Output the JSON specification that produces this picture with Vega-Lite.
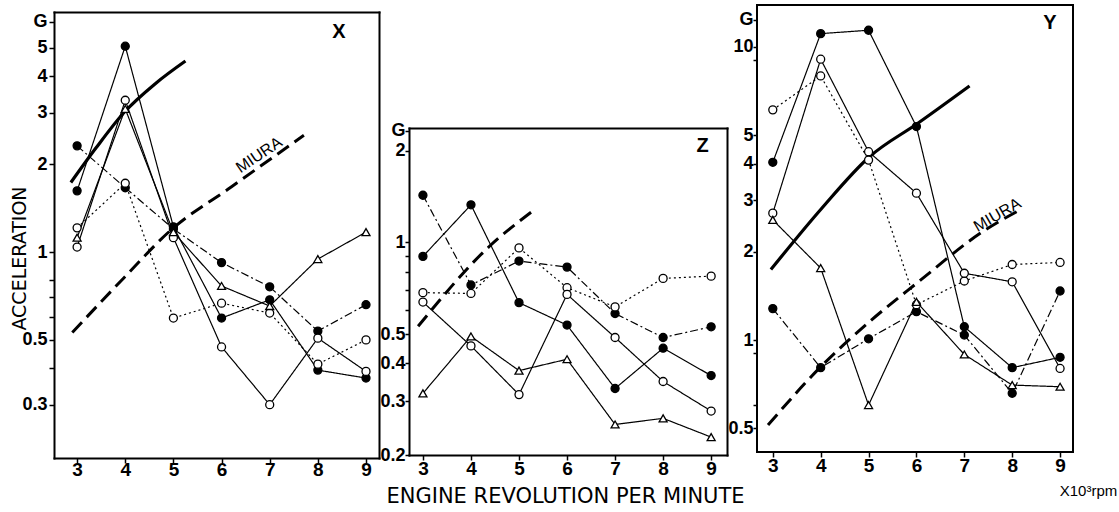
{
  "$schema": "https://vega.github.io/schema/vega-lite/v6.json",
  "background": "white",
  "autosize": {"type": "pad"},
  "padding": {"left": 10, "top": 4, "right": 0, "bottom": 0},
  "config": {
    "view": {"stroke": "black", "strokeWidth": 2},
    "axis": {"domain": false, "grid": false, "domainColor": "black", "domainWidth": 2, "domainCap": "square", "tickColor": "black", "tickWidth": 1.5, "tickSize": 5, "labelColor": "black", "labelFont": "Liberation Sans", "labelFontWeight": "bold", "labelFontSize": 18, "labelOverlap": false, "titleColor": "black", "titleFont": "DejaVu Sans", "titleFontWeight": "normal"},
    "text": {"font": "Liberation Sans", "color": "black"}
  },
  "datasets": {
    "xs": [
      {"rpm":3,"g":1.62,"s":"s1"},{"rpm":4,"g":5.07,"s":"s1"},{"rpm":5,"g":1.22,"s":"s1"},{"rpm":6,"g":0.594,"s":"s1"},{"rpm":7,"g":0.686,"s":"s1"},{"rpm":8,"g":0.394,"s":"s1"},{"rpm":9,"g":0.37,"s":"s1"},
      {"rpm":3,"g":2.31,"s":"s2"},{"rpm":4,"g":1.66,"s":"s2"},{"rpm":5,"g":1.2,"s":"s2"},{"rpm":6,"g":0.92,"s":"s2"},{"rpm":7,"g":0.76,"s":"s2"},{"rpm":8,"g":0.536,"s":"s2"},{"rpm":9,"g":0.66,"s":"s2"},
      {"rpm":3,"g":1.21,"s":"s3"},{"rpm":4,"g":1.72,"s":"s3"},{"rpm":5,"g":0.594,"s":"s3"},{"rpm":6,"g":0.668,"s":"s3"},{"rpm":7,"g":0.618,"s":"s3"},{"rpm":8,"g":0.413,"s":"s3"},{"rpm":9,"g":0.5,"s":"s3"},
      {"rpm":3,"g":1.04,"s":"s4"},{"rpm":4,"g":3.31,"s":"s4"},{"rpm":5,"g":1.12,"s":"s4"},{"rpm":6,"g":0.473,"s":"s4"},{"rpm":7,"g":0.3,"s":"s4"},{"rpm":8,"g":0.507,"s":"s4"},{"rpm":9,"g":0.39,"s":"s4"},
      {"rpm":3,"g":1.12,"s":"s5"},{"rpm":4,"g":3.09,"s":"s5"},{"rpm":5,"g":1.17,"s":"s5"},{"rpm":6,"g":0.765,"s":"s5"},{"rpm":7,"g":0.653,"s":"s5"},{"rpm":8,"g":0.946,"s":"s5"},{"rpm":9,"g":1.17,"s":"s5"}
    ],
    "xc": [
      {"rpm":2.87,"g":1.73,"c":"ref"},{"rpm":3.39,"g":2.27,"c":"ref"},{"rpm":3.97,"g":3.0,"c":"ref"},{"rpm":4.63,"g":3.78,"c":"ref"},{"rpm":5.25,"g":4.51,"c":"ref"},
      {"rpm":2.9,"g":0.53,"c":"MIURA"},{"rpm":3.97,"g":0.815,"c":"MIURA"},{"rpm":4.95,"g":1.19,"c":"MIURA"},{"rpm":6.2,"g":1.67,"c":"MIURA"},{"rpm":7.71,"g":2.51,"c":"MIURA"}
    ],
    "xt": [{"rpm":8.44,"g":5.67,"t":"X"},{"rpm":6.78,"g":2.15,"t":"MIURA"}],
    "zs": [
      {"rpm":3,"g":0.9,"s":"s1"},{"rpm":4,"g":1.33,"s":"s1"},{"rpm":5,"g":0.634,"s":"s1"},{"rpm":6,"g":0.535,"s":"s1"},{"rpm":7,"g":0.331,"s":"s1"},{"rpm":8,"g":0.449,"s":"s1"},{"rpm":9,"g":0.365,"s":"s1"},
      {"rpm":3,"g":1.43,"s":"s2"},{"rpm":4,"g":0.725,"s":"s2"},{"rpm":5,"g":0.869,"s":"s2"},{"rpm":6,"g":0.83,"s":"s2"},{"rpm":7,"g":0.584,"s":"s2"},{"rpm":8,"g":0.487,"s":"s2"},{"rpm":9,"g":0.528,"s":"s2"},
      {"rpm":3,"g":0.684,"s":"s3"},{"rpm":4,"g":0.68,"s":"s3"},{"rpm":5,"g":0.96,"s":"s3"},{"rpm":6,"g":0.71,"s":"s3"},{"rpm":7,"g":0.614,"s":"s3"},{"rpm":8,"g":0.762,"s":"s3"},{"rpm":9,"g":0.775,"s":"s3"},
      {"rpm":3,"g":0.637,"s":"s4"},{"rpm":4,"g":0.457,"s":"s4"},{"rpm":5,"g":0.316,"s":"s4"},{"rpm":6,"g":0.675,"s":"s4"},{"rpm":7,"g":0.487,"s":"s4"},{"rpm":8,"g":0.349,"s":"s4"},{"rpm":9,"g":0.279,"s":"s4"},
      {"rpm":3,"g":0.319,"s":"s5"},{"rpm":4,"g":0.491,"s":"s5"},{"rpm":5,"g":0.379,"s":"s5"},{"rpm":6,"g":0.413,"s":"s5"},{"rpm":7,"g":0.252,"s":"s5"},{"rpm":8,"g":0.264,"s":"s5"},{"rpm":9,"g":0.229,"s":"s5"}
    ],
    "zc": [
      {"rpm":2.9,"g":0.53,"c":"MIURA"},{"rpm":4.38,"g":0.97,"c":"MIURA"},{"rpm":5.26,"g":1.26,"c":"MIURA"}
    ],
    "zt": [{"rpm":8.82,"g":2.07,"t":"Z"}],
    "ys": [
      {"rpm":3,"g":4.04,"s":"s1"},{"rpm":4,"g":11.1,"s":"s1"},{"rpm":5,"g":11.4,"s":"s1"},{"rpm":6,"g":5.35,"s":"s1"},{"rpm":7,"g":1.11,"s":"s1"},{"rpm":8,"g":0.805,"s":"s1"},{"rpm":9,"g":0.873,"s":"s1"},
      {"rpm":3,"g":1.28,"s":"s2"},{"rpm":4,"g":0.805,"s":"s2"},{"rpm":5,"g":1.01,"s":"s2"},{"rpm":6,"g":1.25,"s":"s2"},{"rpm":7,"g":1.04,"s":"s2"},{"rpm":8,"g":0.658,"s":"s2"},{"rpm":9,"g":1.47,"s":"s2"},
      {"rpm":3,"g":6.1,"s":"s3"},{"rpm":4,"g":7.96,"s":"s3"},{"rpm":5,"g":4.11,"s":"s3"},{"rpm":6,"g":1.32,"s":"s3"},{"rpm":7,"g":1.59,"s":"s3"},{"rpm":8,"g":1.81,"s":"s3"},{"rpm":9,"g":1.84,"s":"s3"},
      {"rpm":3,"g":2.71,"s":"s4"},{"rpm":4,"g":9.08,"s":"s4"},{"rpm":5,"g":4.39,"s":"s4"},{"rpm":6,"g":3.17,"s":"s4"},{"rpm":7,"g":1.69,"s":"s4"},{"rpm":8,"g":1.58,"s":"s4"},{"rpm":9,"g":0.8,"s":"s4"},
      {"rpm":3,"g":2.57,"s":"s5"},{"rpm":4,"g":1.76,"s":"s5"},{"rpm":5,"g":0.6,"s":"s5"},{"rpm":6,"g":1.35,"s":"s5"},{"rpm":7,"g":0.893,"s":"s5"},{"rpm":8,"g":0.702,"s":"s5"},{"rpm":9,"g":0.693,"s":"s5"}
    ],
    "yc": [
      {"rpm":2.96,"g":1.74,"c":"ref"},{"rpm":4.01,"g":2.8,"c":"ref"},{"rpm":5.02,"g":4.22,"c":"ref"},{"rpm":6.03,"g":5.49,"c":"ref"},{"rpm":7.11,"g":7.36,"c":"ref"},
      {"rpm":2.9,"g":0.513,"c":"MIURA"},{"rpm":4.0,"g":0.81,"c":"MIURA"},{"rpm":5.02,"g":1.155,"c":"MIURA"},{"rpm":6.0,"g":1.56,"c":"MIURA"},{"rpm":7.43,"g":2.37,"c":"MIURA"},{"rpm":8.2,"g":2.8,"c":"MIURA"}
    ],
    "yt": [{"rpm":8.79,"g":12.05,"t":"Y"},{"rpm":7.69,"g":2.67,"t":"MIURA"}]
  },
  "resolve": {"scale": {"x": "independent", "y": "independent"}},
  "bounds": "flush",
  "spacing": 30,
  "hconcat": [
    {
      "width": 325, "height": 453,
      "view": {"stroke": null},
      "resolve": {"axis": {"x": "independent", "y": "independent"}},
      "layer": [
        {"data": {"name": "xs"}, "mark": {"type": "line", "color": "black", "strokeWidth": 1.2},
         "encoding": {
           "x": {"field": "rpm", "type": "quantitative", "scale": {"domain": [2.52, 9.27], "nice": false, "zero": false},
                 "axis": {"values": [3,4,5,6,7,8,9], "title": null, "labelFontSize": 19, "labelBaseline": "middle", "labelPadding": 6, "domain": true}},
           "y": {"field": "g", "type": "quantitative", "scale": {"type": "log", "domain": [0.197, 6.64], "nice": false, "range": [453, 7]},
                 "axis": {"values": [6.15,5,4,3,2,1,0.8,0.7,0.6,0.5,0.4,0.3], "domain": true,
                          "labelExpr": "datum.value > 6 ? 'G' : indexof([5,4,3,2,1,0.5,0.3], datum.value) >= 0 ? datum.value + '' : ''",
                          "title": "ACCELERATION", "titleFontSize": 19, "titleX": -35, "titleY": 253, "titleAngle": -90, "titleAlign": "center", "titleBaseline": "middle"}},
           "detail": {"field": "s"},
           "strokeDash": {"field": "s", "type": "nominal", "legend": null, "scale": {"domain": ["s1","s2","s3","s4","s5"], "range": [[1,0],[8,3,2,3],[2,3],[1,0],[1,0]]}}}},
        {"data": {"name": "xc"}, "transform": [{"filter": "datum.c == 'ref'"}], "mark": {"type": "line", "color": "black", "strokeWidth": 3.2, "interpolate": "monotone"},
         "encoding": {"x": {"field": "rpm", "type": "quantitative", "axis": null}, "y": {"field": "g", "type": "quantitative", "axis": null}}},
        {"data": {"name": "xc"}, "transform": [{"filter": "datum.c == 'MIURA'"}], "mark": {"type": "line", "color": "black", "strokeWidth": 3, "strokeDash": [14,7], "interpolate": "monotone"},
         "encoding": {"x": {"field": "rpm", "type": "quantitative", "axis": null}, "y": {"field": "g", "type": "quantitative", "axis": null}}},
        {"data": {"name": "xs"}, "mark": {"type": "point", "filled": true, "stroke": "black", "strokeWidth": 1.3, "opacity": 1},
         "encoding": {
           "x": {"field": "rpm", "type": "quantitative", "axis": null}, "y": {"field": "g", "type": "quantitative", "axis": null},
           "shape": {"field": "s", "type": "nominal", "legend": null, "scale": {"domain": ["s1","s2","s3","s4","s5"], "range": ["circle","circle","circle","circle","triangle-up"]}},
           "fill": {"field": "s", "type": "nominal", "legend": null, "scale": {"domain": ["s1","s2","s3","s4","s5"], "range": ["black","black","white","white","white"]}},
           "size": {"field": "s", "type": "nominal", "legend": null, "scale": {"domain": ["s1","s2","s3","s4","s5"], "range": [64,64,64,64,120]}}}},
        {"data": {"name": "xt"}, "transform": [{"filter": "datum.t == 'MIURA'"}], "mark": {"type": "text", "fontSize": 16, "angle": -34},
         "encoding": {"x": {"field": "rpm", "type": "quantitative", "axis": null}, "y": {"field": "g", "type": "quantitative", "axis": null}, "text": {"field": "t"}}},
        {"data": {"name": "xt"}, "transform": [{"filter": "datum.t == 'X'"}], "mark": {"type": "text", "fontSize": 20, "fontWeight": "bold"},
         "encoding": {
           "x": {"field": "rpm", "type": "quantitative", "axis": {"orient": "top", "offset": -7, "domain": true, "ticks": false, "labels": false, "title": null}},
           "y": {"field": "g", "type": "quantitative", "axis": {"orient": "right", "domain": true, "ticks": false, "labels": false, "title": null}},
           "text": {"field": "t"}}}
      ]
    },
    {
      "width": 318, "height": 450,
      "view": {"stroke": null},
      "resolve": {"axis": {"x": "independent", "y": "independent"}},
      "layer": [
        {"data": {"name": "zs"}, "mark": {"type": "line", "color": "black", "strokeWidth": 1.2},
         "encoding": {
           "x": {"field": "rpm", "type": "quantitative", "scale": {"domain": [2.71, 9.33], "nice": false, "zero": false},
                 "axis": {"values": [3,4,5,6,7,8,9], "labelFontSize": 19, "labelBaseline": "middle", "labelPadding": 8, "domain": true,
                          "title": "ENGINE REVOLUTION PER MINUTE", "titleFontSize": 21, "titleX": 156, "titleY": 41, "titleAlign": "center", "titleBaseline": "middle"}},
           "y": {"field": "g", "type": "quantitative", "scale": {"type": "log", "domain": [0.2, 2.38], "nice": false, "range": [450, 123]},
                 "axis": {"values": [2.33,2,1,0.9,0.8,0.7,0.6,0.5,0.4,0.3,0.2], "domain": true, "tickSize": 4, "labelPadding": 0,
                          "labelExpr": "datum.value > 2.1 ? 'G' : indexof([2,1,0.5,0.4,0.3,0.2], datum.value) >= 0 ? datum.value + '' : ''",
                          "title": null}},
           "detail": {"field": "s"},
           "strokeDash": {"field": "s", "type": "nominal", "legend": null, "scale": {"domain": ["s1","s2","s3","s4","s5"], "range": [[1,0],[8,3,2,3],[2,3],[1,0],[1,0]]}}}},
        {"data": {"name": "zc"}, "mark": {"type": "line", "color": "black", "strokeWidth": 3, "strokeDash": [14,7], "interpolate": "monotone"},
         "encoding": {"x": {"field": "rpm", "type": "quantitative", "axis": null}, "y": {"field": "g", "type": "quantitative", "axis": null}}},
        {"data": {"name": "zs"}, "mark": {"type": "point", "filled": true, "stroke": "black", "strokeWidth": 1.3, "opacity": 1},
         "encoding": {
           "x": {"field": "rpm", "type": "quantitative", "axis": null}, "y": {"field": "g", "type": "quantitative", "axis": null},
           "shape": {"field": "s", "type": "nominal", "legend": null, "scale": {"domain": ["s1","s2","s3","s4","s5"], "range": ["circle","circle","circle","circle","triangle-up"]}},
           "fill": {"field": "s", "type": "nominal", "legend": null, "scale": {"domain": ["s1","s2","s3","s4","s5"], "range": ["black","black","white","white","white"]}},
           "size": {"field": "s", "type": "nominal", "legend": null, "scale": {"domain": ["s1","s2","s3","s4","s5"], "range": [64,64,64,64,120]}}}},
        {"data": {"name": "zt"}, "mark": {"type": "text", "fontSize": 20, "fontWeight": "bold"},
         "encoding": {
           "x": {"field": "rpm", "type": "quantitative", "axis": {"orient": "top", "offset": -123, "domain": true, "ticks": false, "labels": false, "title": null}},
           "y": {"field": "g", "type": "quantitative", "axis": {"orient": "right", "domain": true, "ticks": false, "labels": false, "title": null}},
           "text": {"field": "t"}}}
      ]
    },
    {
      "width": 316, "height": 447,
      "encoding": {
        "x": {"field": "rpm", "type": "quantitative", "scale": {"domain": [2.67, 9.27], "nice": false, "zero": false},
              "axis": {"values": [3,4,5,6,7,8,9], "labelFontSize": 19, "labelBaseline": "middle", "labelPadding": 8,
                       "title": "X10³rpm", "titleFont": "Liberation Sans", "titleFontSize": 15, "titleX": 331, "titleY": 38, "titleAlign": "center", "titleBaseline": "middle"}},
        "y": {"field": "g", "type": "quantitative", "scale": {"type": "log", "domain": [0.415, 13.9], "nice": false},
              "axis": {"values": [12.4,10,9,5,4,3,2,1,0.9,0.6,0.5], "tickSize": 4, "labelPadding": 0,
                       "labelExpr": "datum.value > 11 ? 'G' : indexof([10,5,4,3,2,1,0.5], datum.value) >= 0 ? datum.value + '' : ''",
                       "title": null}}
      },
      "layer": [
        {"data": {"name": "ys"}, "mark": {"type": "line", "color": "black", "strokeWidth": 1.2},
         "encoding": {"detail": {"field": "s"}, "strokeDash": {"field": "s", "type": "nominal", "legend": null, "scale": {"domain": ["s1","s2","s3","s4","s5"], "range": [[1,0],[8,3,2,3],[2,3],[1,0],[1,0]]}}}},
        {"data": {"name": "yc"}, "transform": [{"filter": "datum.c == 'ref'"}], "mark": {"type": "line", "color": "black", "strokeWidth": 3.2, "interpolate": "monotone"}},
        {"data": {"name": "yc"}, "transform": [{"filter": "datum.c == 'MIURA'"}], "mark": {"type": "line", "color": "black", "strokeWidth": 3, "strokeDash": [14,7], "interpolate": "monotone"}},
        {"data": {"name": "ys"}, "mark": {"type": "point", "filled": true, "stroke": "black", "strokeWidth": 1.3, "opacity": 1},
         "encoding": {
           "shape": {"field": "s", "type": "nominal", "legend": null, "scale": {"domain": ["s1","s2","s3","s4","s5"], "range": ["circle","circle","circle","circle","triangle-up"]}},
           "fill": {"field": "s", "type": "nominal", "legend": null, "scale": {"domain": ["s1","s2","s3","s4","s5"], "range": ["black","black","white","white","white"]}},
           "size": {"field": "s", "type": "nominal", "legend": null, "scale": {"domain": ["s1","s2","s3","s4","s5"], "range": [64,64,64,64,120]}}}},
        {"data": {"name": "yt"}, "transform": [{"filter": "datum.t == 'Y'"}], "mark": {"type": "text", "fontSize": 20, "fontWeight": "bold"}, "encoding": {"text": {"field": "t"}}},
        {"data": {"name": "yt"}, "transform": [{"filter": "datum.t == 'MIURA'"}], "mark": {"type": "text", "fontSize": 16, "angle": -30}, "encoding": {"text": {"field": "t"}}}
      ]
    }
  ]
}
